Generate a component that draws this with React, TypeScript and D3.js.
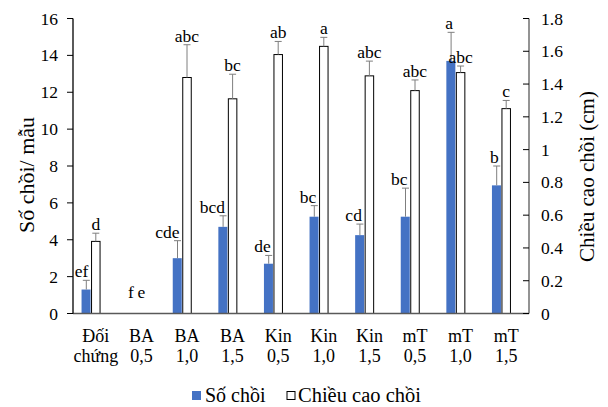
import React from 'react'
import * as d3 from 'd3'

// treatments (two-line tick labels)
const groups = [
  ['Đối', 'chứng'],
  ['BA', '0,5'],
  ['BA', '1,0'],
  ['BA', '1,5'],
  ['Kin', '0,5'],
  ['Kin', '1,0'],
  ['Kin', '1,5'],
  ['mT', '0,5'],
  ['mT', '1,0'],
  ['mT', '1,5'],
]

// Số chồi (left axis)
const shoots = [1.3, 0, 3.0, 4.7, 2.7, 5.25, 4.25, 5.25, 13.7, 6.95]
const shootsErr = [0.5, 0, 0.95, 0.6, 0.45, 0.6, 0.6, 1.55, 1.55, 1.05]
const shootsLetters = ['ef', 'f', 'cde', 'bcd', 'de', 'bc', 'cd', 'bc', 'a', 'b']

// Chiều cao chồi, cm (right axis)
const height = [0.44, 0, 1.44, 1.31, 1.58, 1.63, 1.45, 1.36, 1.47, 1.25]
const heightErr = [0.05, 0, 0.2, 0.15, 0.08, 0.055, 0.09, 0.065, 0.04, 0.05]
const heightLetters = ['d', 'e', 'abc', 'bc', 'ab', 'a', 'abc', 'abc', 'abc', 'c']

const leftTicks = [0, 2, 4, 6, 8, 10, 12, 14, 16]
const rightTicks = [0, 0.2, 0.4, 0.6, 0.8, 1, 1.2, 1.4, 1.6, 1.8]

const W = 608
const H = 407
const BLUE = '#4472C4'
const txt = { fontFamily: "'Liberation Serif'" }

export default function App() {
  const left = 73
  const right = 529
  const top = 18.5
  const bottom = 313.5

  const x0 = d3.scaleBand<number>()
    .domain(d3.range(groups.length))
    .range([left, right])
    .paddingInner(0.375)
    .paddingOuter(0.1875)
  // three slots per group, third one is empty (as in the source chart)
  const x1 = d3.scaleBand<string>()
    .domain(['shoots', 'height', 'none'])
    .range([0, x0.bandwidth()])
  const bw = x1.bandwidth()

  const yL = d3.scaleLinear().domain([0, 16]).range([bottom, top])
  const yR = d3.scaleLinear().domain([0, 1.8]).range([bottom, top])

  const errColor = '#7f7f7f'

  return (
    <svg width={W} height={H} style={{ position: 'absolute', left: 0, top: 0, background: '#fff' }}>
      {/* bars */}
      {groups.map((g, i) => {
        const bx = x0(i)! + x1('shoots')!
        const hx = x0(i)! + x1('height')!
        const bTop = yL(shoots[i])
        const bErr = yL(shoots[i] + shootsErr[i])
        const hTop = yR(height[i])
        const hErr = yR(height[i] + heightErr[i])
        const bc = bx + bw / 2
        const hc = hx + bw / 2
        return (
          <g key={i}>
            {shoots[i] > 0 && (
              <g>
                <rect x={bx} y={bTop} width={bw - 0.5} height={bottom - bTop} fill={BLUE} />
                <line x1={bc} x2={bc} y1={bTop} y2={bErr} stroke={errColor} strokeWidth={1} />
                <line x1={bc - 3.5} x2={bc + 3.5} y1={bErr} y2={bErr} stroke={errColor} strokeWidth={1} />
              </g>
            )}
            {height[i] > 0 && (
              <g>
                <rect x={hx + 0.5} y={hTop} width={bw - 1} height={bottom - hTop}
                  fill="#fff" stroke="#000" strokeWidth={1} />
                <line x1={hc} x2={hc} y1={hTop} y2={hErr} stroke={errColor} strokeWidth={1} />
                <line x1={hc - 3.5} x2={hc + 3.5} y1={hErr} y2={hErr} stroke={errColor} strokeWidth={1} />
              </g>
            )}
            <text x={bc + 2} y={(shoots[i] > 0 ? bErr : bottom - 13) - 3} textAnchor="end"
              fontSize={17.5} fill="#000" style={txt}>{shootsLetters[i]}</text>
            <text x={hc} y={(height[i] > 0 ? hErr : bottom - 13) - 3} textAnchor="middle"
              fontSize={17.5} fill="#000" style={txt}>{heightLetters[i]}</text>
            <text x={x0(i)! + x0.bandwidth() / 2} y={341.5} textAnchor="middle" fontSize={18} fill="#000" style={txt}>{g[0]}</text>
            <text x={x0(i)! + x0.bandwidth() / 2} y={361.5} textAnchor="middle" fontSize={18} fill="#000" style={txt}>{g[1]}</text>
          </g>
        )
      })}

      {/* axes */}
      <line x1={left} x2={right} y1={bottom} y2={bottom} stroke="#595959" strokeWidth={1.3} />
      <line x1={left} x2={left} y1={top} y2={bottom} stroke="#000" strokeWidth={1.3} />
      <line x1={right} x2={right} y1={top} y2={bottom} stroke="#595959" strokeWidth={1.3} />
      {leftTicks.map(t => (
        <g key={'l' + t}>
          <line x1={left - 6} x2={left} y1={yL(t)} y2={yL(t)} stroke="#000" strokeWidth={1} />
          <text x={58} y={yL(t) + 6} textAnchor="end" fontSize={17.5} fill="#000" style={txt}>{t}</text>
        </g>
      ))}
      {rightTicks.map(t => (
        <g key={'r' + t}>
          <line x1={right - 6} x2={right} y1={yR(t)} y2={yR(t)} stroke="#000" strokeWidth={1} />
          <text x={541} y={yR(t) + 6} textAnchor="start" fontSize={17.5} fill="#000" style={txt}>{d3.format('~g')(t)}</text>
        </g>
      ))}

      {/* axis titles */}
      <text transform="translate(34,175) rotate(-90)" textAnchor="middle" fontSize={22} fill="#000" style={txt}>Số chồi/ mẫu</text>
      <text transform="translate(594,176.5) rotate(-90)" textAnchor="middle" fontSize={21} fill="#000" style={txt}>Chiều cao chồi (cm)</text>

      {/* legend */}
      <rect x={192} y={391} width={9} height={9} fill={BLUE} />
      <text x={205} y={402} fontSize={20} fill="#000" style={txt}>Số chồi</text>
      <rect x={287} y={391.5} width={8} height={8} fill="#fff" stroke="#000" strokeWidth={1} />
      <text x={298} y={402} fontSize={20.5} fill="#000" style={txt}>Chiều cao chồi</text>
    </svg>
  )
}
